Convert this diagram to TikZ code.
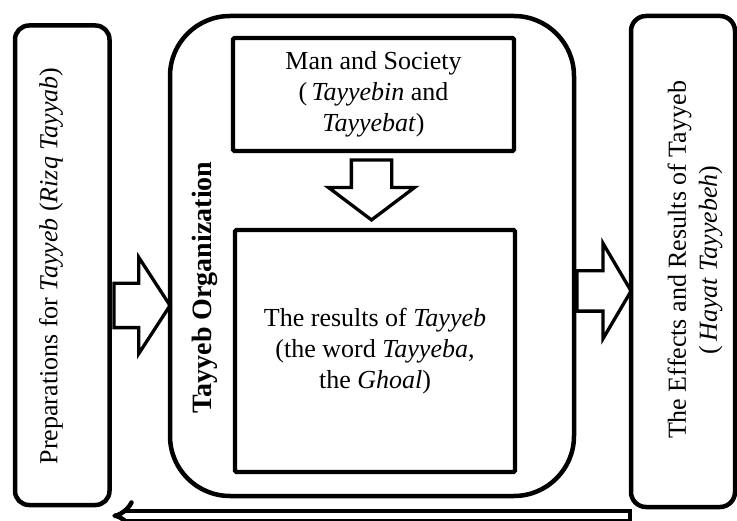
\documentclass[tikz,border=0pt]{standalone}
\usepackage{fontspec}
\setmainfont{Liberation Serif}
\usetikzlibrary{shapes.arrows,calc,arrows.meta}
\tikzset{
  outerbox/.style={draw, line width=4.5pt, inner sep=0pt},
  innerbox/.style={draw, line width=4.3pt, rounded corners=1.5pt, inner sep=0pt, align=center},
  blockarrow/.style={draw, single arrow, line width=3.3pt, inner xsep=0pt, line join=miter},
  label/.style={inner sep=0pt, align=center}
}
\begin{document}
\begin{tikzpicture}[x=1pt,y=-1pt,font=\fontsize{26}{31}\selectfont]
\useasboundingbox (0,0) rectangle (737,521);
% boxes
\node (L) [outerbox, rounded corners=14pt, minimum width=94.5pt, minimum height=479.5pt] at (62.25,265.25) {};
\node (M) [outerbox, rounded corners=60pt, minimum width=404pt, minimum height=480pt] at (372,256) {};
\node (R) [outerbox, rounded corners=15pt, minimum width=104pt, minimum height=491pt] at (683,261.5) {};
\node (T) [innerbox, minimum width=281pt, minimum height=113pt] at (373.5,94.5)
  {Man and Society\\(\,\textit{Tayyebin} and\\\textit{Tayyebat})};
\node (B) [innerbox, minimum width=280pt, minimum height=242pt] at (375,351)
  {The results of \textit{Tayyeb}\\(the word \textit{Tayyeba},\\the \textit{Ghoal})};
% texts
\node (lt) [label, rotate=90] at (51,266) {Preparations for \textit{Tayyeb} (\textit{Rizq Tayyab})};
\node (org) [label, rotate=90, font=\fontsize{28}{33}\selectfont\bfseries] at (205,287.5) {Tayyeb Organization};
\node (rt) [label, rotate=90] at (695,260) {The Effects and Results of Tayyeb\\(\,\textit{Hayat Tayyebeh})};
% block arrows
\node (a1) [blockarrow, anchor=tip, inner ysep=20.5pt, minimum height=56pt,
  single arrow head extend=26pt, single arrow tip angle=114] at (172,305.5) {};
\node (a2) [blockarrow, anchor=tip, inner ysep=18.5pt, minimum height=54pt,
  single arrow head extend=27.5pt, single arrow tip angle=119] at (633,291) {};
\node (a3) [blockarrow, rotate=-90, anchor=tip, inner ysep=18.5pt, minimum height=60pt,
  single arrow head extend=23pt, single arrow tip angle=106] at (371.5,222) {};
% bottom double arrow
\coordinate (bs) at ($(R.south west)+(1,6.5)$);
\coordinate (be) at ($(L.south east)+(0.5,8.5)$);
\draw[double, line width=4.5pt, double distance=5.5pt, -{Implies}] (bs) -- (be);
\draw[line width=4.5pt] ($(bs)+(0,-7.25)$) -- ($(bs)+(0,7.25)$);
\end{tikzpicture}
\end{document}
